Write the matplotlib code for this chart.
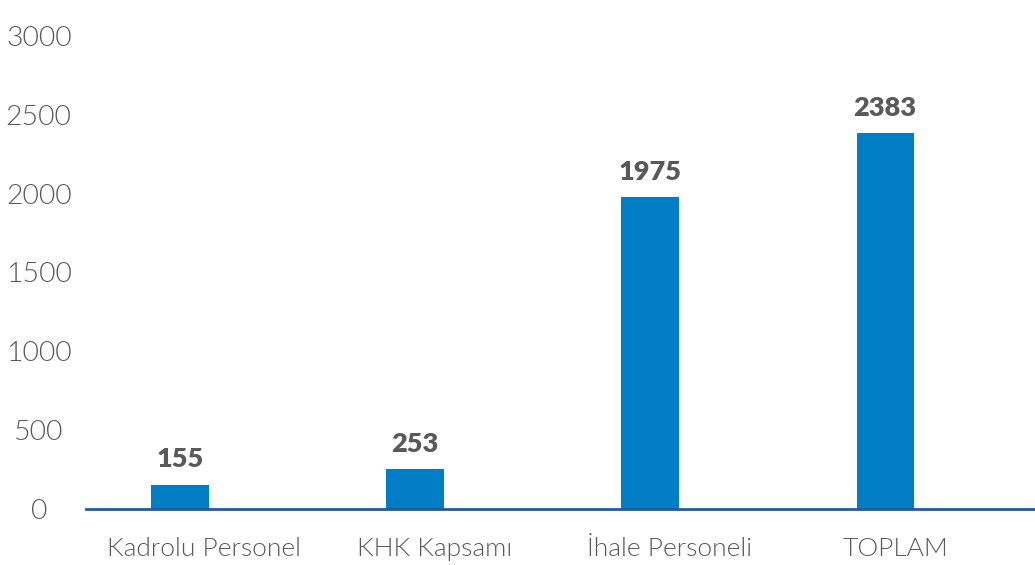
import matplotlib.pyplot as plt

# ----------------------------
# Data
# ----------------------------
categories = ["Kadrolu Personel", "KHK Kapsamı", "İhale Personeli", "TOPLAM"]
values = [155, 253, 1975, 2383]
yticks = [0, 500, 1000, 1500, 2000, 2500, 3000]

BAR_COLOR = "#007DC5"
AXIS_COLOR = "#1F5AA8"
TEXT_COLOR = "#595959"
# category labels sit a bit right of the bars in the original (pixels)
LABEL_SHIFT_PX = [24, 20, 20, 10]

plt.rcParams["font.family"] = ["Lato", "DejaVu Sans"]

fig = plt.figure(figsize=(10.35, 5.65), dpi=100)
ax = fig.add_axes([0.0831, 0.0991, 0.9169, 0.8655])

x = list(range(len(categories)))
bars = ax.bar(x, values, width=0.243, color=BAR_COLOR, zorder=2)

for b, v in zip(bars, values):
    ax.annotate(str(v), (b.get_x() + b.get_width() / 2, v),
                xytext=(0, 9.5), textcoords="offset points",
                ha="center", va="bottom", fontsize=19.5, fontweight=800,
                color=TEXT_COLOR)

# category labels drawn as text so they can be nudged sideways
for i, (cat, dx) in enumerate(zip(categories, LABEL_SHIFT_PX)):
    ax.annotate(cat, (i, 0), xycoords=("data", "axes fraction"),
                xytext=(dx * 0.72, -20), textcoords="offset points",
                ha="center", va="top", fontsize=19, fontweight=300,
                color=TEXT_COLOR, annotation_clip=False)

ax.set_xlim(-0.4, 3.638)
ax.set_ylim(0, 3100)
ax.set_yticks(yticks)
ax.set_yticklabels([str(t) for t in yticks], fontweight=300, ha="center")
ax.set_xticks([])

for s in ["top", "right", "left"]:
    ax.spines[s].set_visible(False)
ax.spines["bottom"].set_color(AXIS_COLOR)
ax.spines["bottom"].set_linewidth(2)
ax.spines["bottom"].set_zorder(3)

ax.tick_params(axis="y", length=0, colors=TEXT_COLOR, pad=34, labelsize=20.5)

fig.savefig("out.png", dpi=100)
